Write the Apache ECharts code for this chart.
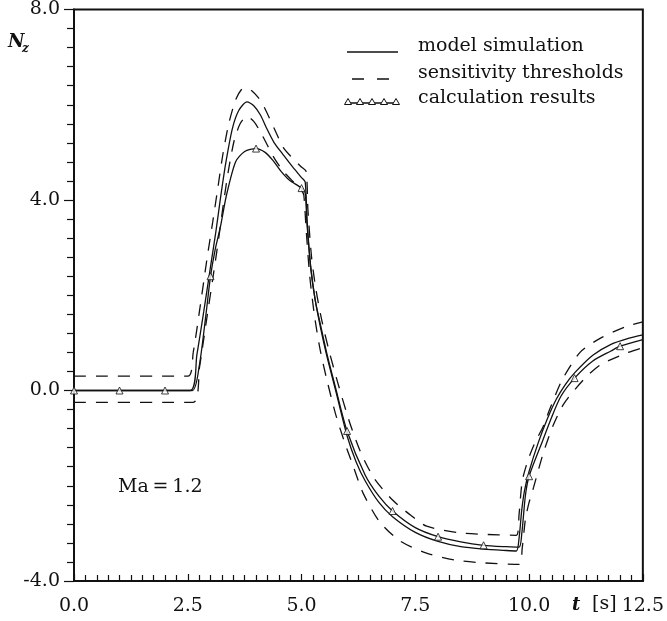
<!DOCTYPE html>
<html>
<head>
<meta charset="utf-8">
<script src="https://cdn.jsdelivr.net/npm/echarts@6/dist/echarts.min.js"></script>
<style>html,body{margin:0;padding:0;background:#fff;}#c{width:667px;height:621px;}</style>
</head>
<body>
<div id="c"></div>
<script>
// model simulation (solid line)
const modelT = [0, 2.55, 2.7, 2.85, 3.0, 3.12, 3.22, 3.33, 3.48, 3.62, 3.8, 3.95, 4.1, 4.23, 4.4, 4.59, 4.8, 5.0, 5.08, 5.12, 5.2, 5.3, 5.4, 5.55, 5.75, 6.0, 6.2, 6.4, 6.7, 7.0, 7.5, 8.0, 8.5, 9.0, 9.5, 9.72, 9.78, 9.84, 9.9, 10.0, 10.2, 10.4, 10.6, 10.8, 11.0, 11.4, 11.8, 12.2, 12.5];
const modelN = [0, 0, 0.75, 1.65, 2.6, 3.35, 4.05, 4.75, 5.5, 5.88, 6.06, 5.98, 5.78, 5.51, 5.2, 4.96, 4.7, 4.47, 4.38, 3.6, 2.6, 1.9, 1.4, 0.75, 0.0, -0.95, -1.5, -1.9, -2.35, -2.65, -2.98, -3.17, -3.28, -3.33, -3.36, -3.37, -3.1, -2.5, -2.1, -1.7, -1.1, -0.6, -0.18, 0.13, 0.37, 0.74, 0.97, 1.1, 1.17];

// calculation results (solid line with triangles at whole seconds)
const calcT = [0, 1, 2, 2.6, 2.75, 2.9, 3, 3.1, 3.22, 3.35, 3.55, 3.75, 4, 4.2, 4.38, 4.55, 4.73, 5, 5.08, 5.12, 5.2, 5.3, 5.4, 5.55, 5.75, 6, 6.4, 6.7, 7, 7.5, 8, 8.5, 9, 9.5, 9.78, 9.84, 9.92, 10, 10.3, 10.5, 10.7, 11, 11.4, 11.8, 12, 12.5];
const calcN = [0, 0, 0, 0, 0.5, 1.6, 2.4, 2.95, 3.45, 4.1, 4.8, 5.02, 5.08, 5.0, 4.82, 4.6, 4.42, 4.25, 4.15, 3.5, 2.6, 1.9, 1.45, 0.8, 0.05, -0.85, -1.78, -2.22, -2.53, -2.88, -3.07, -3.18, -3.25, -3.28, -3.29, -3.0, -2.2, -1.8, -1.05, -0.55, -0.12, 0.26, 0.62, 0.83, 0.93, 1.07];

// sensitivity thresholds (dashed)
const upperT = [0, 2.5, 2.62, 2.77, 2.92, 3.05, 3.16, 3.27, 3.4, 3.55, 3.68, 3.78, 3.9, 4.05, 4.17, 4.4, 4.6, 4.76, 4.99, 5.1, 5.14, 5.22, 5.32, 5.45, 5.6, 5.8, 6.05, 6.3, 6.6, 7.0, 7.4, 7.75, 8.49, 9.0, 9.72, 9.78, 9.85, 9.98, 10.15, 10.29, 10.46, 10.72, 11.12, 11.57, 12.15, 12.5];
const upperN = [0.3, 0.3, 0.8, 1.75, 2.75, 3.55, 4.25, 4.95, 5.6, 6.1, 6.32, 6.36, 6.3, 6.15, 5.97, 5.5, 5.1, 4.92, 4.7, 4.6, 3.8, 2.8, 2.1, 1.45, 0.85, 0.15, -0.65, -1.3, -1.85, -2.3, -2.62, -2.85, -2.99, -3.02, -3.04, -2.6, -1.9, -1.45, -1.05, -0.8, -0.38, 0.21, 0.8, 1.1, 1.35, 1.44];
const lowerT = [0, 2.62, 2.76, 2.9, 3.05, 3.18, 3.28, 3.39, 3.52, 3.65, 3.8, 3.95, 4.09, 4.25, 4.4, 4.6, 4.8, 5.0, 5.05, 5.1, 5.18, 5.28, 5.4, 5.55, 5.75, 5.95, 6.14, 6.35, 6.71, 7.15, 7.73, 8.37, 9.0, 9.78, 9.85, 9.92, 10.0, 10.1, 10.31, 10.53, 10.77, 11.2, 11.57, 12.15, 12.5];
const lowerN = [-0.25, -0.25, 0.5, 1.4, 2.35, 3.2, 3.9, 4.6, 5.25, 5.6, 5.76, 5.65, 5.44, 5.15, 4.88, 4.6, 4.4, 4.2, 4.1, 3.4, 2.4, 1.6, 0.9, 0.25, -0.5, -1.1, -1.6, -2.15, -2.75, -3.15, -3.41, -3.56, -3.62, -3.65, -3.3, -2.7, -2.35, -2.03, -1.32, -0.73, -0.27, 0.23, 0.54, 0.79, 0.9];

// axes
const xMin = 0, xMax = 12.5, xStep = 2.5;
const yMin = -4, yMax = 8, yStep = 4;

const zip = (a, b) => a.map((v, i) => [v, b[i]]);
const markers = zip(calcT, calcN).filter(p => Number.isInteger(p[0]));

const FONT = '"DejaVu Serif", "Liberation Serif", serif';
const INK = '#111';

const chart = echarts.init(document.getElementById('c'), null, {renderer: 'canvas'});

const tri = (cx, cy) => ({
  type: 'polygon',
  shape: {points: [[cx, cy - 3.5], [cx - 3.5, cy + 2.5], [cx + 3.5, cy + 2.5]]},
  style: {fill: '#fff', stroke: INK, lineWidth: 1},
  z: 101
});

chart.setOption({
  backgroundColor: '#fff',
  animation: false,
  grid: {left: 74, right: 15, top: 8, bottom: 40, show: true, borderColor: INK, borderWidth: 2, backgroundColor: 'transparent'},
  xAxis: {
    type: 'value', min: xMin, max: xMax, interval: xStep,
    axisLine: {show: true, onZero: false, lineStyle: {color: INK, width: 2}},
    axisTick: {show: true, inside: true, length: 7, lineStyle: {color: INK, width: 1.2}},
    minorTick: {show: true, splitNumber: 10, length: 6, lineStyle: {color: INK, width: 1.2}},
    splitLine: {show: false},
    axisLabel: {color: INK, fontFamily: FONT, fontSize: 19, margin: 16, formatter: v => v.toFixed(1), showMinLabel: true, showMaxLabel: true}
  },
  yAxis: {
    type: 'value', min: yMin, max: yMax, interval: yStep,
    axisLine: {show: true, onZero: false, lineStyle: {color: INK, width: 2}},
    axisTick: {show: true, inside: false, length: 10, lineStyle: {color: INK, width: 1.2}},
    minorTick: {show: true, splitNumber: 10, length: 7, lineStyle: {color: INK, width: 1.2}},
    splitLine: {show: false},
    axisLabel: {color: INK, fontFamily: FONT, fontSize: 19, margin: 14, formatter: v => v.toFixed(1)}
  },
  series: [
    {name: 'model simulation', type: 'line', data: zip(modelT, modelN), symbol: 'none', smooth: 0.25,
     lineStyle: {color: INK, width: 1.3}, z: 3},
    {name: 'calculation results', type: 'line', data: zip(calcT, calcN), symbol: 'none', smooth: 0.25,
     lineStyle: {color: INK, width: 1.3}, z: 3},
    {name: 'upper threshold', type: 'line', data: zip(upperT, upperN), symbol: 'none', smooth: 0.25,
     lineStyle: {color: INK, width: 1.3, type: [12, 10]}, z: 2},
    {name: 'lower threshold', type: 'line', data: zip(lowerT, lowerN), symbol: 'none', smooth: 0.25,
     lineStyle: {color: INK, width: 1.3, type: [12, 10]}, z: 2},
    {name: 'calculation markers', type: 'scatter', data: markers, symbol: 'triangle', symbolSize: 7,
     itemStyle: {color: '#fff', borderColor: INK, borderWidth: 1}, z: 5}
  ],
  graphic: [
    // y axis title
    {type: 'text', left: 8, top: 33, style: {text: 'N', font: 'italic bold 18px ' + FONT, fill: INK}, z: 100},
    {type: 'text', left: 22, top: 43, style: {text: 'z', font: 'italic bold 12px ' + FONT, fill: INK}, z: 100},
    // x axis title
    {type: 'text', left: 572, top: 596, style: {text: 't', font: 'italic bold 18px ' + FONT, fill: INK}, z: 100},
    {type: 'text', left: 592, top: 595, style: {text: '[s]', font: '19px ' + FONT, fill: INK}, z: 100},
    // annotation
    {type: 'text', left: 118, top: 478, style: {text: 'Ma\u2009=\u20091.2', font: '19px ' + FONT, fill: INK}, z: 100},
    // legend
    {type: 'line', shape: {x1: 347, y1: 52, x2: 398, y2: 52}, style: {stroke: INK, lineWidth: 1.3}, z: 100},
    {type: 'line', shape: {x1: 352, y1: 79, x2: 390, y2: 79}, style: {stroke: INK, lineWidth: 1.3, lineDash: [12, 13]}, z: 100},
    {type: 'line', shape: {x1: 345, y1: 103, x2: 398, y2: 103}, style: {stroke: INK, lineWidth: 1.3}, z: 100},
    tri(348, 102), tri(360, 102), tri(372, 102), tri(384, 102), tri(396, 102),
    {type: 'text', left: 418, top: 37, style: {text: 'model simulation', font: '19px ' + FONT, fill: INK}, z: 100},
    {type: 'text', left: 418, top: 64, style: {text: 'sensitivity thresholds', font: '19px ' + FONT, fill: INK}, z: 100},
    {type: 'text', left: 418, top: 89, style: {text: 'calculation results', font: '19px ' + FONT, fill: INK}, z: 100}
  ]
});
</script>
</body>
</html>
